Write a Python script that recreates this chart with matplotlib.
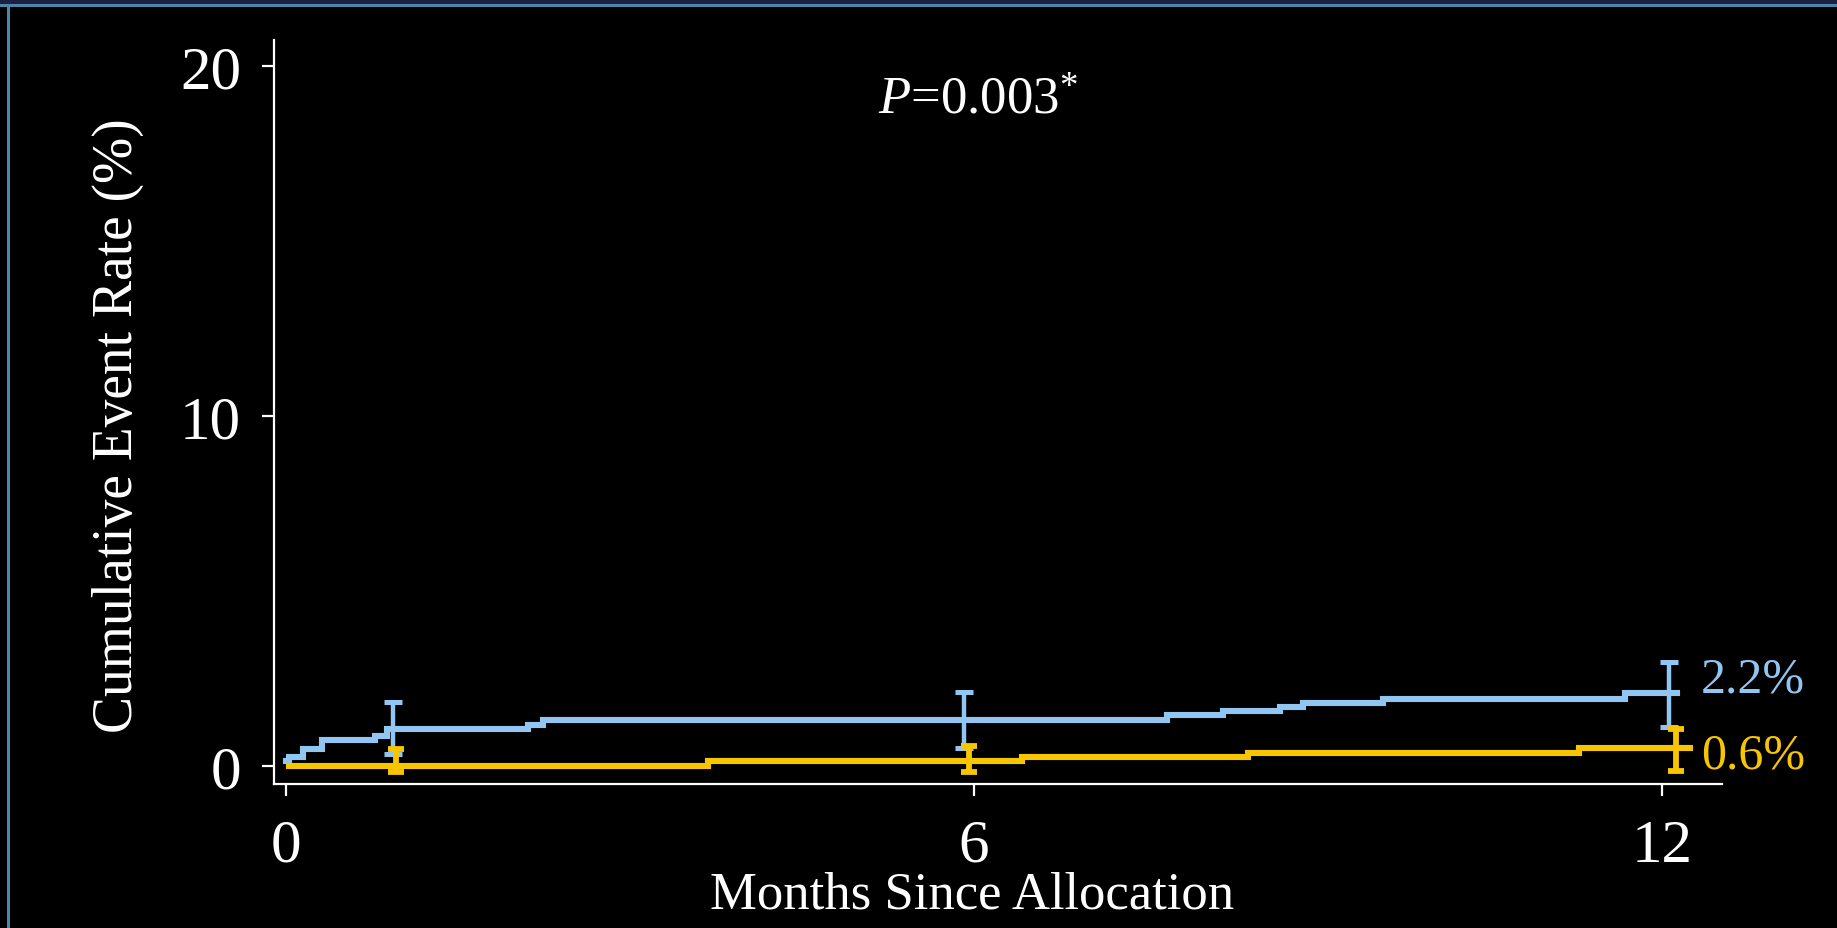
import numpy as np
import matplotlib
matplotlib.use("Agg")
from matplotlib import pyplot as plt
from matplotlib.patches import Rectangle

# Kaplan-Meier style step data (months, cumulative event rate %)
blue_t = [0.0, 0.03, 0.15, 0.31, 0.78, 0.88, 2.11, 2.24, 7.68, 8.17, 8.67, 8.87, 9.57, 11.68, 12.13]
blue_y = [0.14, 0.26, 0.49, 0.74, 0.86, 1.06, 1.17, 1.31, 1.46, 1.57, 1.69, 1.80, 1.91, 2.09, 2.09]

gold_t = [0.03, 3.68, 6.42, 8.39, 11.28, 12.24]
gold_y = [0.0, 0.14, 0.26, 0.37, 0.51, 0.51]

# confidence intervals at 1, 6 and 12 months (slightly dodged)
blue_ci_t = [0.93, 5.91, 12.06]
blue_ci_mid = [1.06, 1.31, 2.09]
blue_ci_lo = [0.34, 0.51, 1.11]
blue_ci_hi = [1.83, 2.11, 2.97]

gold_ci_t = [0.96, 5.96, 12.12]
gold_ci_mid = [0.0, 0.14, 0.51]
gold_ci_lo = [-0.16, -0.17, -0.14]
gold_ci_hi = [0.49, 0.57, 1.06]

xticks = [0, 6, 12]
yticks = [0, 10, 20]
end_labels = ["2.2%", "0.6%"]
end_label_y = [2.49, 0.31]

blue = "#92c6f2"
gold = "#f7c600"
serif = "Liberation Serif"

plt.rcParams['font.family'] = [serif, 'DejaVu Serif']
plt.rcParams['mathtext.fontset'] = 'custom'
plt.rcParams['mathtext.rm'] = serif
plt.rcParams['mathtext.it'] = serif + ':italic'

W, H = 1837, 929
fig = plt.figure(figsize=(W / 100, H / 100), dpi=100, facecolor='black')

# slide frame: navy strip on top, steel-blue rule on top and left
fig.patches.append(Rectangle((0, 1 - 5 / H), 1, 5 / H, transform=fig.transFigure,
                             facecolor='#1c2144', edgecolor='none'))
fig.patches.append(Rectangle((0, 1 - 8 / H), 1, 3.5 / H, transform=fig.transFigure,
                             facecolor='#4b86ab', edgecolor='none'))
fig.patches.append(Rectangle((6.5 / W, 0), 3.5 / W, 1 - 5 / H, transform=fig.transFigure,
                             facecolor='#4b86ab', edgecolor='none'))

ax = fig.add_axes([274 / W, 1 - 785 / H, (1722 - 274) / W, (785 - 41) / H])
ax.set_facecolor('black')

ax.step(blue_t, blue_y, where='post', color=blue, lw=4.4, solid_joinstyle='miter', zorder=3)
ax.step(gold_t, gold_y, where='post', color=gold, lw=4.4, solid_joinstyle='miter', zorder=3)

bm = np.array(blue_ci_mid)
ax.errorbar(blue_ci_t, bm, yerr=[bm - np.array(blue_ci_lo), np.array(blue_ci_hi) - bm],
            fmt='none', ecolor=blue, elinewidth=3.2, capsize=6.5, capthick=3.6, zorder=4)
gm = np.array(gold_ci_mid)
ax.errorbar(gold_ci_t, gm, yerr=[gm - np.array(gold_ci_lo), np.array(gold_ci_hi) - gm],
            fmt='none', ecolor=gold, elinewidth=4.2, capsize=6, capthick=4.2, zorder=4)

for lab, yy, c in zip(end_labels, end_label_y, [blue, gold]):
    ax.text(12.34, yy, lab, color=c, fontsize=36, ha='left', va='center', clip_on=False)

ax.text(0.486, 0.92, r"$P$=0.003$^{*}$", transform=ax.transAxes, color='white',
        fontsize=38, ha='center', va='center')

ax.set_xlim(-0.105, 12.523)
ax.set_ylim(-0.514, 20.74)
ax.set_xticks(xticks)
ax.set_yticks(yticks)
ax.set_xticklabels([str(v) for v in xticks])
ax.set_yticklabels([str(v) for v in yticks])

for s in ['top', 'right']:
    ax.spines[s].set_visible(False)
for s in ['left', 'bottom']:
    ax.spines[s].set_color('white')
    ax.spines[s].set_linewidth(1.6)

ax.tick_params(axis='both', colors='white', labelcolor='white', labelsize=44,
               length=8.6, width=1.6, direction='out')
ax.tick_params(axis='y', pad=15)
ax.tick_params(axis='x', pad=16)

ax.set_xlabel("Months Since Allocation", color='white', fontsize=38)
ax.set_ylabel("Cumulative Event Rate (%)", color='white', fontsize=40)
ax.xaxis.set_label_coords(0.482, -0.149)
ax.xaxis.label.set_va('center')
ax.yaxis.set_label_coords(-0.108, 0.4825)
ax.yaxis.label.set_va('center')

fig.savefig("out.png", dpi=100, facecolor='black')
